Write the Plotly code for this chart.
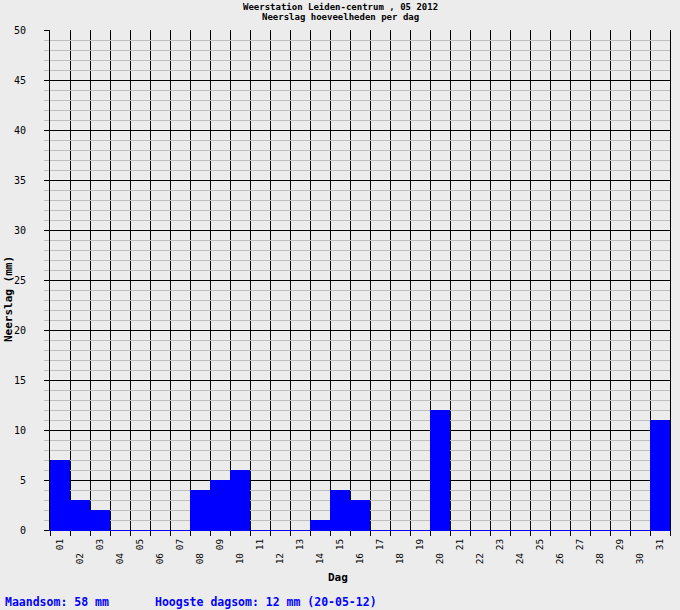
import plotly.graph_objects as go

days = list(range(1, 32))
day_labels = [f"{d:02d}" for d in days]
rain_mm = [7, 3, 2, 0, 0, 0, 0, 4, 5, 6, 0, 0, 0, 1, 4, 3, 0, 0, 0, 12,
           0, 0, 0, 0, 0, 0, 0, 0, 0, 0, 11]
title_lines = ["Weerstation Leiden-centrum , 05 2012", "Neerslag hoeveelheden per dag"]
footer_left = "Maandsom: 58 mm"
footer_right = "Hoogste dagsom: 12 mm (20-05-12)"

MONO = "DejaVu Sans Mono"
BG = "#ECECEC"

odd_days = [d for d in days if d % 2 == 1]
even_days = [d for d in days if d % 2 == 0]
boundaries = [d - 0.5 for d in days] + [days[-1] + 0.5]

fig = go.Figure()
fig.add_trace(go.Bar(x=days, y=rain_mm, width=1, marker=dict(color="#0000FF", line=dict(width=0)),
                     hoverinfo="x+y"))

xrange = [0.5, 31.5]
fig.update_layout(
    width=680, height=610,
    paper_bgcolor=BG, plot_bgcolor=BG,
    margin=dict(l=50, r=10, t=30, b=80, autoexpand=False),
    showlegend=False,
    bargap=0,
    xaxis=dict(range=xrange, tickmode="array", tickvals=odd_days, automargin=False,
               ticktext=[day_labels[d - 1] for d in odd_days], tickangle=-90,
               ticks="", showgrid=False, zeroline=False,
               showline=True, linecolor="#0000FF", linewidth=1,
               tickfont=dict(family=MONO, size=9.5, color="black"),
               ticklabelstandoff=4,
               minor=dict(tickmode="array", tickvals=boundaries, ticks="outside", ticklen=5,
                          tickcolor="black", tickwidth=1, showgrid=True, gridcolor="black",
                          gridwidth=1)),
    xaxis2=dict(range=xrange, overlaying="x", anchor="y", side="bottom", tickmode="array",
                automargin=False,
                tickvals=even_days, ticktext=[day_labels[d - 1] for d in even_days],
                tickangle=-90, ticks="", showgrid=False, zeroline=False, showline=False,
                tickfont=dict(family=MONO, size=9.5, color="black"),
                ticklabelstandoff=20),
    yaxis=dict(range=[0, 50], tickmode="linear", tick0=0, dtick=5, ticks="outside", ticklen=5,
               automargin=False,
               tickcolor="black", showgrid=True, gridcolor="black", gridwidth=1,
               zeroline=True, zerolinecolor="#0000FF", zerolinewidth=1,
               showline=True, linecolor="black", mirror=True,
               tickfont=dict(family=MONO, size=10, color="black"),
               ticklabelstandoff=16,
               minor=dict(dtick=1, tick0=0, ticks="outside", ticklen=5, tickcolor="#BEBEBE",
                          showgrid=True, gridcolor="#BEBEBE", gridwidth=1)),
)

# invisible trace to activate xaxis2
fig.add_trace(go.Scatter(x=[1], y=[0], xaxis="x2", mode="markers", marker=dict(opacity=0),
                         hoverinfo="skip"))

fig.add_annotation(text="<b>" + title_lines[0] + "</b>", xref="paper", yref="paper",
                   x=(340 - 50) / 620, y=(530 - 7) / 500, xanchor="center", yanchor="middle",
                   showarrow=False, font=dict(family=MONO, size=9, color="black"))
fig.add_annotation(text="<b>" + title_lines[1] + "</b>", xref="paper", yref="paper",
                   x=(340 - 50) / 620, y=(530 - 17) / 500, xanchor="center", yanchor="middle",
                   showarrow=False, font=dict(family=MONO, size=9, color="black"))
fig.add_annotation(text="<b>Neerslag (mm)</b>", xref="paper", yref="paper", x=(8 - 50) / 620,
                   y=(530 - 299) / 500, xanchor="center", yanchor="middle", textangle=-90,
                   showarrow=False, font=dict(family=MONO, size=11, color="black"))
fig.add_annotation(text="<b>Dag</b>", xref="paper", yref="paper", x=(338 - 50) / 620,
                   y=(530 - 577) / 500, xanchor="center", yanchor="middle", showarrow=False,
                   font=dict(family=MONO, size=11, color="black"))
fig.add_annotation(text="<b>" + footer_left + "</b>", xref="paper", yref="paper",
                   x=(3 - 50) / 620, xanchor="left", y=(530 - 602) / 500, yanchor="middle",
                   showarrow=False, font=dict(family=MONO, size=11.5, color="#0000FF"))
fig.add_annotation(text="<b>" + footer_right + "</b>", xref="paper", yref="paper",
                   x=(153 - 50) / 620, xanchor="left", y=(530 - 602) / 500, yanchor="middle",
                   showarrow=False, font=dict(family=MONO, size=11.5, color="#0000FF"))

fig.write_html("out.html", config={"displayModeBar": False},
               post_script="document.body.style.margin='0';document.body.style.overflow='hidden';")
